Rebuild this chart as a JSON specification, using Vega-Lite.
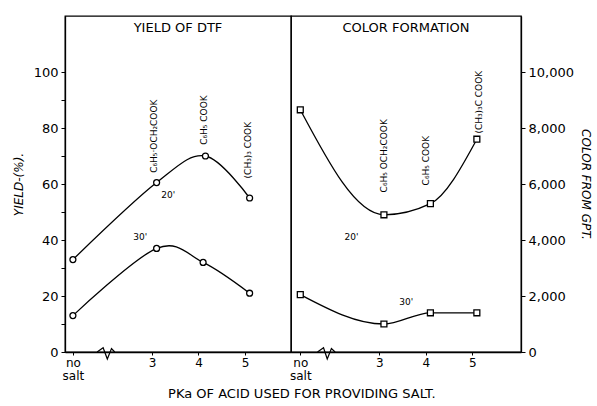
{
  "$schema": "https://vega.github.io/schema/vega-lite/v6.json",
  "background": "white",
  "padding": {"left": 11, "top": 15, "right": 5, "bottom": 5},
  "spacing": 0,
  "bounds": "flush",
  "title": {"text": "PKa OF ACID USED FOR PROVIDING SALT.", "orient": "bottom", "anchor": "middle", "fontSize": 13, "fontWeight": "normal", "font": "DejaVu Sans", "color": "black", "offset": 6},
  "config": {
    "font": "DejaVu Sans",
    "view": {"stroke": "black", "strokeWidth": 1.3},
    "axis": {"domainColor": "black", "domainWidth": 1.3, "tickColor": "black", "tickSize": 4, "labelColor": "black", "labelFontSize": 13, "grid": false, "titleColor": "black", "titleFontWeight": "normal", "titleFontSize": 12, "titleFontStyle": "italic"}
  },
  "datasets": {
    "yield": [
      {"pka": 1.3, "value": 33, "time": "20'"},
      {"pka": 3.1, "value": 60.5, "time": "20'"},
      {"pka": 4.15, "value": 70, "time": "20'"},
      {"pka": 5.1, "value": 55, "time": "20'"},
      {"pka": 1.3, "value": 13, "time": "30'"},
      {"pka": 3.1, "value": 37, "time": "30'"},
      {"pka": 4.1, "value": 32, "time": "30'"},
      {"pka": 5.1, "value": 21, "time": "30'"}
    ],
    "color": [
      {"pka": 1.3, "value": 8650, "time": "20'"},
      {"pka": 3.1, "value": 4900, "time": "20'"},
      {"pka": 4.1, "value": 5300, "time": "20'"},
      {"pka": 5.1, "value": 7600, "time": "20'"},
      {"pka": 1.3, "value": 2050, "time": "30'"},
      {"pka": 3.1, "value": 1000, "time": "30'"},
      {"pka": 4.1, "value": 1400, "time": "30'"},
      {"pka": 5.1, "value": 1400, "time": "30'"}
    ],
    "yieldNotes": [
      {"pka": 3.05, "value": 64, "label": "C₆H₅·OCH₂COOK"},
      {"pka": 4.12, "value": 74, "label": "C₆H₅ COOK"},
      {"pka": 5.07, "value": 62, "label": "(CH₃)₃ COOK"}
    ],
    "colorNotes": [
      {"pka": 3.1, "value": 5700, "label": "C₆H₅ OCH₂COOK"},
      {"pka": 4.0, "value": 5950, "label": "C₆H₅ COOK"},
      {"pka": 5.15, "value": 7800, "label": "(CH₃)₃C COOK"}
    ],
    "yieldTimes": [
      {"pka": 3.2, "value": 56, "label": "20'"},
      {"pka": 2.6, "value": 41, "label": "30'"}
    ],
    "colorTimes": [
      {"pka": 2.25, "value": 4100, "label": "20'"},
      {"pka": 3.43, "value": 1800, "label": "30'"}
    ],
    "yieldBreak": [
      {"pka": 1.82, "value": 0, "o": 1},
      {"pka": 1.95, "value": 1.5, "o": 2},
      {"pka": 2.04, "value": -2.5, "o": 3},
      {"pka": 2.13, "value": 1.2, "o": 4},
      {"pka": 2.2, "value": 0, "o": 5}
    ],
    "colorBreak": [
      {"pka": 1.67, "value": 0, "o": 1},
      {"pka": 1.8, "value": 150, "o": 2},
      {"pka": 1.88, "value": -250, "o": 3},
      {"pka": 1.97, "value": 120, "o": 4},
      {"pka": 2.05, "value": 0, "o": 5}
    ]
  },
  "hconcat": [
    {
      "width": 226,
      "height": 336,
      "title": {"text": "YIELD OF DTF", "offset": -19, "fontSize": 13, "fontWeight": "normal", "color": "black"},
      "encoding": {
        "x": {"field": "pka", "type": "quantitative", "scale": {"domain": [1.13, 5.99], "nice": false, "zero": false},
          "axis": {"title": null, "values": [1.3, 3, 4, 5], "labelExpr": "datum.value < 2 ? ['no', 'salt'] : datum.label", "labelFontSize": 12, "labelLineHeight": 13, "tickSize": 3}},
        "y": {"field": "value", "type": "quantitative", "scale": {"domain": [0, 120], "nice": false},
          "axis": {"title": "YIELD-(%).", "values": [0, 10, 20, 30, 40, 50, 60, 70, 80, 90, 100], "labelExpr": "datum.value % 20 == 0 ? datum.label : ''", "titlePadding": 8, "labelPadding": 3}}
      },
      "layer": [
        {"data": {"name": "yield"}, "transform": [{"filter": "datum.time == \"20'\""}], "mark": {"type": "line", "interpolate": "cardinal", "color": "black", "strokeWidth": 1.3}},
        {"data": {"name": "yield"}, "transform": [{"filter": "datum.time == \"30'\""}], "mark": {"type": "line", "interpolate": "cardinal", "color": "black", "strokeWidth": 1.3}},
        {"data": {"name": "yield"}, "mark": {"type": "point", "shape": "circle", "filled": true, "fill": "white", "stroke": "black", "strokeWidth": 1.3, "size": 35, "opacity": 1}},
        {"data": {"name": "yieldBreak"}, "mark": {"type": "line", "color": "black", "strokeWidth": 1.2, "clip": false}, "encoding": {"order": {"field": "o"}}},
        {"data": {"name": "yieldNotes"}, "mark": {"type": "text", "angle": 270, "align": "left", "baseline": "middle", "fontSize": 9, "color": "black"}, "encoding": {"text": {"field": "label"}}},
        {"data": {"name": "yieldTimes"}, "mark": {"type": "text", "align": "left", "baseline": "middle", "fontSize": 9, "color": "black"}, "encoding": {"text": {"field": "label"}}}
      ]
    },
    {
      "width": 230,
      "height": 336,
      "title": {"text": "COLOR FORMATION", "offset": -19, "fontSize": 13, "fontWeight": "normal", "color": "black"},
      "encoding": {
        "x": {"field": "pka", "type": "quantitative", "scale": {"domain": [1.1, 6.05], "nice": false, "zero": false},
          "axis": {"title": null, "values": [1.3, 3, 4, 5], "labelExpr": "datum.value < 2 ? ['no', 'salt'] : datum.label", "labelFontSize": 12, "labelLineHeight": 13, "tickSize": 3}},
        "y": {"field": "value", "type": "quantitative", "scale": {"domain": [0, 12000], "nice": false},
          "axis": {"orient": "right", "title": "COLOR FROM GPT.", "titleAngle": 90, "values": [0, 2000, 4000, 6000, 8000, 10000], "format": ",.0f", "titlePadding": 5, "labelPadding": 3}}
      },
      "layer": [
        {"data": {"name": "color"}, "transform": [{"filter": "datum.time == \"20'\""}], "mark": {"type": "line", "interpolate": "monotone", "color": "black", "strokeWidth": 1.3}},
        {"data": {"name": "color"}, "transform": [{"filter": "datum.time == \"30'\""}], "mark": {"type": "line", "interpolate": "monotone", "color": "black", "strokeWidth": 1.3}},
        {"data": {"name": "color"}, "mark": {"type": "point", "shape": "square", "filled": true, "fill": "white", "stroke": "black", "strokeWidth": 1.3, "size": 35, "opacity": 1}},
        {"data": {"name": "colorBreak"}, "mark": {"type": "line", "color": "black", "strokeWidth": 1.2, "clip": false}, "encoding": {"order": {"field": "o"}}},
        {"data": {"name": "colorNotes"}, "mark": {"type": "text", "angle": 270, "align": "left", "baseline": "middle", "fontSize": 9, "color": "black"}, "encoding": {"text": {"field": "label"}}},
        {"data": {"name": "colorTimes"}, "mark": {"type": "text", "align": "left", "baseline": "middle", "fontSize": 9, "color": "black"}, "encoding": {"text": {"field": "label"}}}
      ]
    }
  ]
}
